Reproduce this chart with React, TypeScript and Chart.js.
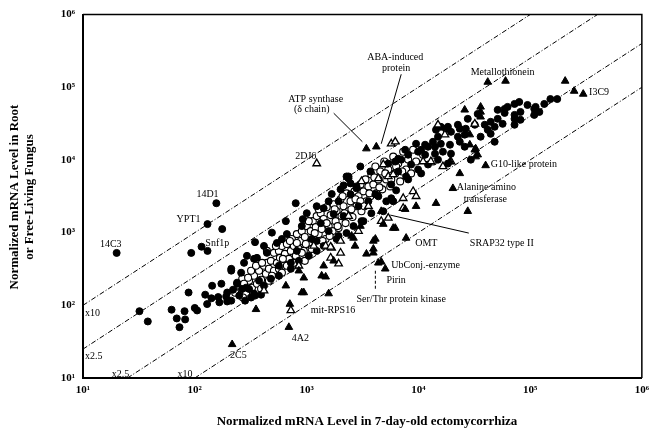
import React, { useEffect, useRef } from "react";
import { Chart, registerables } from "chart.js";

Chart.register(...registerables);

// [ectomycorrhiza level, root / free-living fungus level]
const filledCircles: [number, number][] = [
  [20, 526], [32, 83], [38, 60], [62, 87], [69, 66], [73, 50], [81, 83], [82, 64],
  [100, 92], [105, 85], [88, 150], [124, 140], [129, 104], [141, 125], [143, 186],
  [162, 130], [166, 110], [173, 198], [195, 113], [195, 150], [220, 164], [239, 198],
  [265, 168], [306, 168], [346, 136], [212, 300], [130, 1310], [156, 2540], [176, 1120],
  [93, 526], [115, 640], [130, 561], [346, 740], [490, 1000], [653, 1440], [800, 2540],
  [1680, 3400], [2280, 5930], [3030, 8130], [293, 479], [360, 450], [212, 318], [260, 281],
  [239, 205], [288, 175], [339, 145], [416, 186], [480, 232], [724, 318], [853, 409],
  [1047, 479], [1110, 818], [1340, 1350], [1750, 1800], [2375, 5930], [2475, 4760],
  [667, 955], [543, 721], [416, 656], [907, 1230], [1005, 1850], [1423, 2170], [1935, 2700],
  [2475, 3365], [2800, 4330], [3730, 6950], [5390, 8930], [7030, 10100], [9955, 13000],
  [11500, 16200], [15000, 20900], [18400, 28600], [22600, 30500], [26600, 26900],
  [14100, 15200], [12220, 8660], [15000, 10100], [9955, 7400], [10600, 6530], [18400, 8930],
  [6610, 6950], [7780, 5930], [5725, 4610], [5725, 2970], [4130, 3365], [2800, 4070],
  [2375, 5570], [2144, 4470], [152000, 68900], [134000, 59000], [109000, 50400],
  [94800, 57100], [82000, 45800], [72600, 59000], [62900, 53700], [59200, 44400],
  [51300, 36800], [44400, 33500], [39300, 30500], [48200, 28600], [56800, 31400],
  [72600, 36800], [82000, 35700], [72600, 30500], [41800, 26000], [32000, 30500],
  [27700, 36800], [23500, 26900], [22600, 20900], [19600, 24400], [17600, 26900],
  [15900, 28600], [14400, 26000], [26000, 22300], [44400, 22900], [48200, 17800],
  [26000, 15200], [23500, 17800], [19200, 16200], [15900, 16700], [13530, 17800],
  [12220, 15200], [10600, 13800], [9550, 16700], [19600, 12200], [16600, 13000],
  [14100, 12200], [11500, 11800], [8112, 11800], [7630, 13800], [6610, 10400], [6220, 9510],
  [8620, 8650], [29500, 10100], [36100, 20900], [34000, 43000], [51300, 48900],
  [109000, 41700], [121000, 45800], [72600, 41700], [175000, 68900], [112000, 53700],
  [80000, 62800], [59200, 50400], [2144, 1690], [2914, 2310], [3576, 2700], [4389, 3160],
  [3228, 1440], [1577, 1050], [1230, 768], [819, 561], [566, 350], [376, 218], [250, 136],
  [2631, 1230], [1935, 899], [4862, 1970], [5967, 2700],
  [191, 132], [212, 116], [282, 116], [319, 128], [392, 140], [276, 384], [339, 436],
  [442, 527], [602, 818], [926, 1533], [1233, 2310], [1577, 2700], [2016, 3941],
  [1233, 561], [1423, 656], [1857, 818], [2280, 986], [3100, 1440], [3800, 1850],
  [5170, 2700], [6332, 3818], [8112, 5400], [566, 255], [724, 384],
];

const openCircles: [number, number][] = [
  [250, 186], [266, 232], [288, 149], [306, 218], [325, 175], [339, 255], [360, 198],
  [376, 299], [392, 225], [416, 350], [433, 272], [442, 384], [461, 318], [480, 409],
  [511, 527], [511, 299], [543, 384], [566, 561], [578, 450], [602, 656], [627, 350],
  [640, 511], [667, 699], [695, 436], [724, 561], [739, 818], [770, 656], [802, 479],
  [819, 955], [853, 597], [889, 768], [907, 1050], [945, 561], [965, 871], [1005, 1230],
  [1047, 699], [1091, 1050], [1137, 1440], [1160, 818], [1209, 1190], [1233, 1690],
  [1285, 955], [1339, 1850], [1366, 1120], [1423, 1540], [1483, 818], [1513, 2240],
  [1577, 1230], [1643, 1744], [1712, 1050], [1747, 2460], [1820, 1440], [1857, 1970],
  [1935, 1155], [2016, 2875], [2054, 1690], [2144, 2310], [2234, 1352], [2280, 3474],
  [2375, 1970], [2475, 2700], [2578, 1638], [2686, 3700], [2797, 2310], [2914, 3160],
  [3036, 4611], [3100, 1970], [3228, 3700], [3364, 5400], [3436, 2700], [3576, 4330],
  [3726, 3160], [3800, 6315], [3962, 4611], [4128, 8130], [4210, 3474], [4389, 5400],
  [4570, 6950], [4760, 3941], [4960, 9510], [5170, 5400], [5386, 7400], [5610, 4330],
  [5967, 11100], [6218, 6530], [6610, 8930], [6880, 5070], [7322, 13000], [7780, 7400],
  [8112, 10130], [8620, 6530], [8986, 13800], [9550, 9510], [11030, 11800], [13530, 9510],
  [276, 198], [319, 299], [353, 350], [400, 384], [442, 561], [490, 255], [532, 656],
  [566, 318], [614, 436], [667, 350], [710, 768], [770, 384], [819, 720], [907, 527],
  [985, 699], [1047, 1440], [1113, 597], [1184, 986], [1285, 2098], [1394, 768],
  [1513, 1352], [1610, 899], [1784, 2098], [1896, 1230], [2101, 3160], [2189, 1850],
  [2520, 2098], [2741, 2875], [3036, 2700], [3296, 2310], [3651, 3474], [4045, 5746],
  [4481, 4196], [5066, 6530], [5725, 5400], [6332, 8130], [7176, 6950], [230, 149],
  [270, 128], [300, 239], [392, 169], [461, 218], [602, 281], [965, 409],
];

const filledTriangles: [number, number][] = [
  [216, 29], [695, 50], [1577, 145], [709, 104], [945, 150], [653, 186], [1483, 247],
  [853, 299], [353, 88], [945, 239], [907, 150], [1366, 255], [1423, 350], [1747, 409],
  [2631, 844], [2714, 656], [3962, 768], [3436, 510], [3962, 527], [5967, 1155],
  [4862, 1310], [7780, 844], [4660, 396], [5060, 318], [4389, 384], [2530, 899],
  [3036, 1230], [4128, 818], [3962, 597], [6218, 1155], [27700, 1970], [9550, 2310],
  [7630, 2100], [14400, 2540], [4660, 1970], [20400, 4070], [23500, 6530], [40000, 8390],
  [19200, 9510], [32600, 14300], [34000, 11800], [28900, 16200], [26000, 48900],
  [36100, 45800], [36100, 39200], [36100, 53700], [28900, 22300], [32000, 13800],
  [32600, 11100], [3430, 14300], [4210, 15200], [41800, 118000], [60300, 122000],
  [206000, 122000], [248000, 88700], [299000, 80800],
];

const openTriangles: [number, number][] = [
  [1233, 8930], [5725, 16700], [6218, 17800], [4862, 8650], [5386, 5930], [5967, 6315],
  [4389, 5570], [3100, 5070], [11030, 9510], [7322, 2170], [5386, 1590], [19600, 9510],
  [15000, 30500], [17300, 22300], [32000, 31400], [1483, 656], [1674, 616], [4660, 1440],
  [416, 159], [2016, 527], [1643, 636], [1935, 373], [724, 85], [7322, 2970], [8986, 3700],
  [2375, 1690], [3576, 2310], [2914, 1050], [853, 350], [1160, 656], [12960, 9510],
  [16600, 8130], [9550, 3160], [1643, 450], [2016, 768],
];

// Ratio guide lines (root = ecm x factor)
const lineTimes10Up: [number, number][] = [[10, 100], [100000, 1000000]];
const lineTimes25Up: [number, number][] = [[10, 25], [400000, 1000000]];
const lineTimes25Down: [number, number][] = [[25, 10], [1000000, 400000]];
const lineTimes10Down: [number, number][] = [[100, 10], [1000000, 100000]];

const tickValues = [10, 100, 1000, 10000, 100000, 1000000];
const tickLabels = ["10\u00B9", "10\u00B2", "10\u00B3", "10\u2074", "10\u2075", "10\u2076"];

// [text, x value, y value, align]
const labels: [string, number, number, string][] = [
  ["14C3", 17.7, 698, "center"],
  ["14D1", 130, 3365, "center"],
  ["YPT1", 88, 1535, "center"],
  ["Snf1p", 159, 721, "center"],
  ["2DJ6", 984, 11100, "center"],
  ["ATP synthase", 1208, 69000, "center"],
  ["(\u03B4 chain)", 1112, 48900, "center"],
  ["ABA-induced", 6220, 259000, "center"],
  ["protein", 6340, 183000, "center"],
  ["Metallothionein", 56800, 161000, "center"],
  ["I3C9", 337000, 86000, "left"],
  ["G10-like protein", 44400, 8650, "left"],
  ["Alanine amino", 22100, 4200, "left"],
  ["transferase", 25500, 2870, "left"],
  ["OMT", 9380, 721, "left"],
  ["SRAP32 type II", 28900, 721, "left"],
  ["UbConj.-enzyme", 5730, 350, "left"],
  ["Pirin", 5180, 218, "left"],
  ["Ser/Thr protein kinase", 2800, 120, "left"],
  ["mit-RPS16", 1090, 85, "left"],
  ["4A2", 738, 35, "left"],
  ["2C5", 207, 20.6, "left"],
  ["x10", 10.4, 77, "left"],
  ["x2.5", 10.4, 20, "left"],
  ["x2.5", 18.1, 11.3, "left"],
  ["x10", 70, 11.3, "left"],
];

// [x1, y1, x2, y2, dashed]
const pointers: [number, number, number, number, boolean][] = [
  [1750, 44000, 3160, 17800, false],
  [7030, 151000, 4660, 16700, false],
  [5610, 1744, 28300, 986, false],
  [4128, 299, 4128, 159, true],
];

const xTitle = "Normalized mRNA Level in 7-day-old ectomycorrhiza";
const yTitleLines = ["Normalized mRNA Level in Root", "or Free-Living Fungus"];

const SERIF = '"Liberation Serif", "DejaVu Serif", serif';

const toXY = (arr: [number, number][]) => arr.map(([x, y]) => ({ x, y }));

export default function App() {
  const ref = useRef<HTMLCanvasElement | null>(null);

  useEffect(() => {
    document.body.style.margin = "0";
    const canvas = ref.current;
    if (!canvas) return;

    const overlay = {
      id: "overlay",
      afterDatasetsDraw(chart: any) {
        const { ctx, chartArea, scales } = chart;
        const xs = scales.x;
        const ys = scales.y;
        ctx.save();
        ctx.strokeStyle = "#000";
        ctx.lineWidth = 1.5;
        ctx.beginPath();
        ctx.moveTo(chartArea.left, chartArea.top);
        ctx.lineTo(chartArea.right, chartArea.top);
        ctx.lineTo(chartArea.right, chartArea.bottom);
        ctx.stroke();
        ctx.lineWidth = 1;
        pointers.forEach(([x1, y1, x2, y2, dashed]) => {
          ctx.setLineDash(dashed ? [3, 2] : []);
          ctx.beginPath();
          ctx.moveTo(xs.getPixelForValue(x1), ys.getPixelForValue(y1));
          ctx.lineTo(xs.getPixelForValue(x2), ys.getPixelForValue(y2));
          ctx.stroke();
        });
        ctx.setLineDash([]);
        ctx.fillStyle = "#000";
        ctx.font = `10px ${SERIF}`;
        ctx.textBaseline = "middle";
        labels.forEach(([t, x, y, align]) => {
          ctx.textAlign = align as CanvasTextAlign;
          ctx.fillText(t, xs.getPixelForValue(x), ys.getPixelForValue(y));
        });
        ctx.font = `bold 13px ${SERIF}`;
        ctx.textAlign = "center";
        ctx.fillText(xTitle, 367, 422);
        ctx.save();
        ctx.translate(15, 197);
        ctx.rotate(-Math.PI / 2);
        ctx.fillText(yTitleLines[0], 0, 0);
        ctx.fillText(yTitleLines[1], 0, 15);
        ctx.restore();
        ctx.restore();
      },
    };

    const lineDs = (data: [number, number][]) => ({
      data: toXY(data),
      showLine: true,
      borderColor: "#000",
      borderWidth: 1,
      borderDash: [5, 2, 1, 2],
      pointRadius: 0,
      fill: false,
      order: 10,
    });

    const chart = new Chart(canvas, {
      type: "scatter",
      data: {
        datasets: [
          lineDs(lineTimes10Up),
          lineDs(lineTimes25Up),
          lineDs(lineTimes25Down),
          lineDs(lineTimes10Down),
          {
            data: toXY(openCircles),
            pointStyle: "circle",
            pointRadius: 3.5,
            backgroundColor: "#fff",
            borderColor: "#000",
            borderWidth: 1.1,
            order: 5,
          },
          {
            data: toXY(filledCircles),
            pointStyle: "circle",
            pointRadius: 3.5,
            backgroundColor: "#000",
            borderColor: "#000",
            borderWidth: 1,
            order: 4,
          },
          {
            data: toXY(openTriangles),
            pointStyle: "triangle",
            pointRadius: 4.4,
            backgroundColor: "#fff",
            borderColor: "#000",
            borderWidth: 1.3,
            order: 3,
          },
          {
            data: toXY(filledTriangles),
            pointStyle: "triangle",
            pointRadius: 4.4,
            backgroundColor: "#000",
            borderColor: "#000",
            borderWidth: 1,
            order: 2,
          },
        ] as any,
      },
      options: {
        responsive: false,
        animation: false,
        events: [],
        layout: { padding: { left: 0, top: 12, right: 10, bottom: 0 } },
        plugins: { legend: { display: false }, tooltip: { enabled: false } },
        scales: {
          x: {
            type: "logarithmic",
            min: 10,
            max: 1000000,
            afterFit: (s: any) => {
              s.height = 53;
            },
            afterBuildTicks: (s: any) => {
              s.ticks = tickValues.map((v) => ({ value: v }));
            },
            ticks: {
              callback: (v: any) => tickLabels[tickValues.indexOf(Number(v))] ?? "",
              color: "#000",
              font: { family: SERIF, size: 11, weight: "bold" },
              padding: 6,
              maxRotation: 0,
              autoSkip: false,
            },
            grid: { display: false, drawTicks: false },
            border: { display: true, color: "#000", width: 2 },
          },
          y: {
            type: "logarithmic",
            min: 10,
            max: 1000000,
            afterFit: (s: any) => {
              s.width = 83;
            },
            afterBuildTicks: (s: any) => {
              s.ticks = tickValues.map((v) => ({ value: v }));
            },
            ticks: {
              callback: (v: any) => tickLabels[tickValues.indexOf(Number(v))] ?? "",
              color: "#000",
              font: { family: SERIF, size: 11, weight: "bold" },
              padding: 8,
              autoSkip: false,
            },
            grid: { display: false, drawTicks: false },
            border: { display: true, color: "#000", width: 2 },
          },
        },
      } as any,
      plugins: [overlay],
    });

    return () => chart.destroy();
  }, []);

  return (
    <div style={{ width: 655, height: 431, background: "#fff" }}>
      <canvas ref={ref} width={655} height={431} />
    </div>
  );
}
